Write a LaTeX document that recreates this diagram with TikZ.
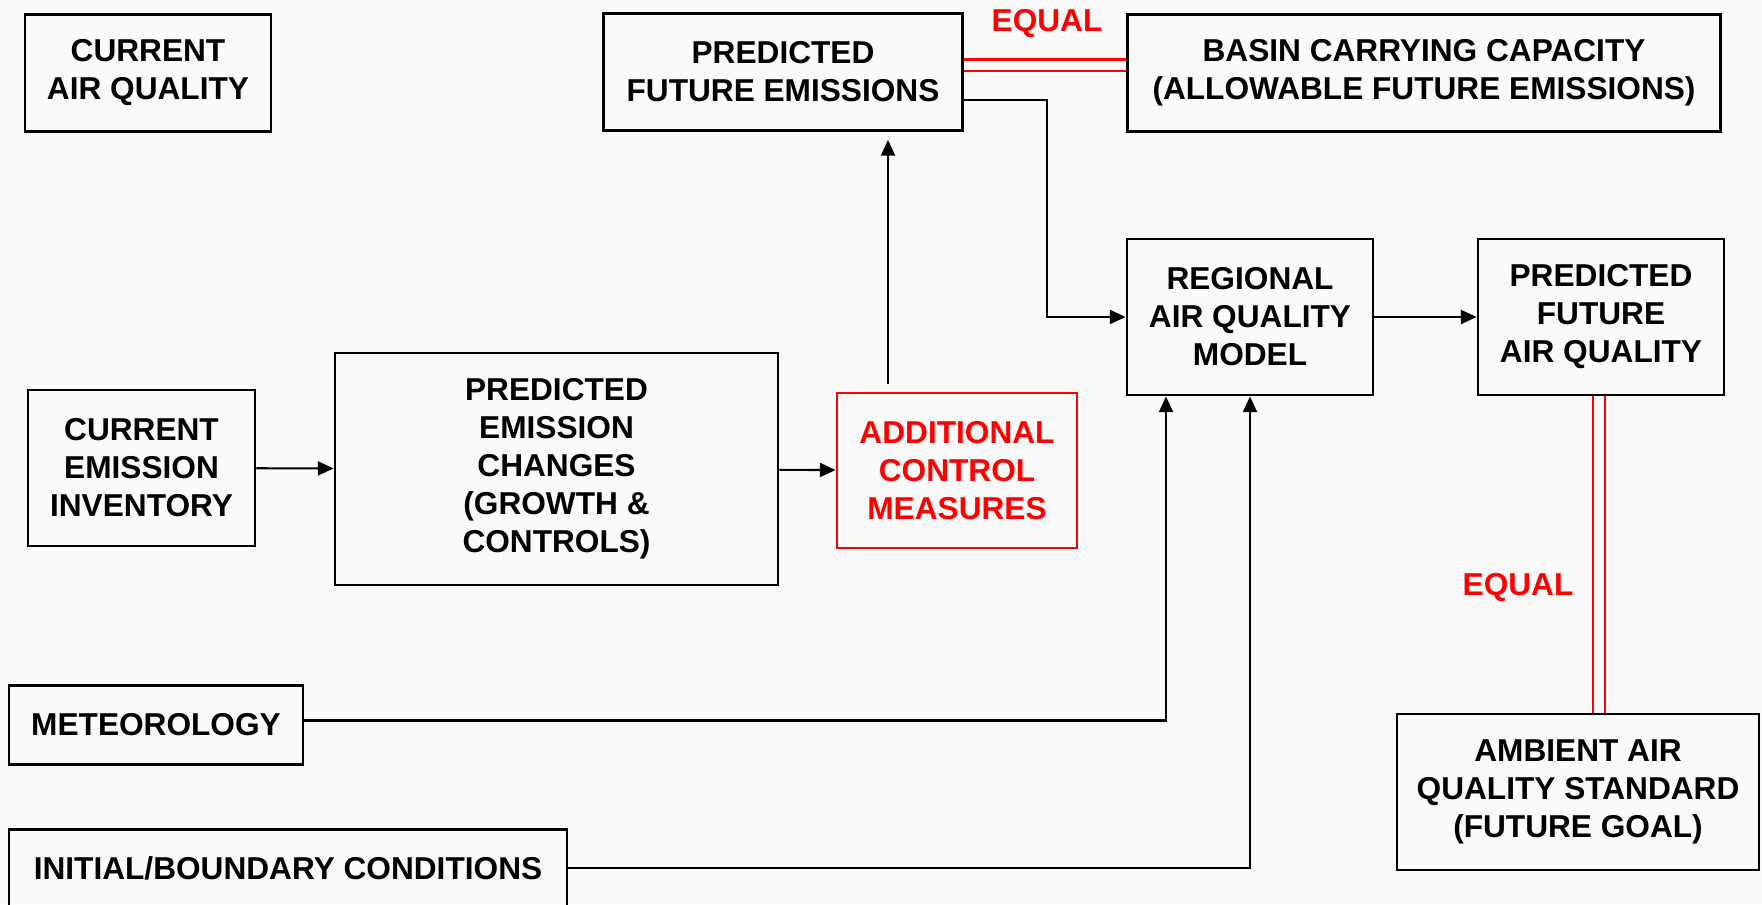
\documentclass[tikz,border=0pt]{standalone}
\usepackage{fontspec}
\setsansfont{Liberation Sans}
\usetikzlibrary{arrows.meta}

\begin{document}
\begin{tikzpicture}[font=\sffamily\bfseries\fontsize{9}{10.8}\selectfont,
  box/.style={draw,line width=0.8pt,align=center,inner sep=0pt},
  arr/.style={line width=0.6pt,-{Triangle[length=4.5pt,width=4pt]}},
  equal/.style={red,line width=0.6pt}]
\fill[black!2] (0,0) rectangle (17.62,-9.04);
\useasboundingbox (0,0) rectangle (17.62,-9.04);
% top row
\node[box,minimum width=2.46cm,minimum height=1.17cm] (caq) at (1.48,-0.73) {CURRENT\\AIR QUALITY};
\node[box,minimum width=3.59cm,minimum height=1.17cm] (pfe) at (7.83,-0.72) {PREDICTED\\FUTURE EMISSIONS};
\node[box,minimum width=5.93cm,minimum height=1.17cm] (bcc) at (14.24,-0.73) {BASIN CARRYING CAPACITY\\(ALLOWABLE FUTURE EMISSIONS)};
\node[red] (eq1) at (10.47,-0.24) {EQUAL};
% model
\node[box,minimum width=2.46cm,minimum height=1.56cm] (ram) at (12.50,-3.17) {REGIONAL\\AIR QUALITY\\MODEL};
\node[box,minimum width=2.46cm,minimum height=1.56cm] (pfaq) at (16.01,-3.17) {PREDICTED\\FUTURE\\AIR QUALITY};
\node[box,minimum width=3.62cm,minimum height=1.56cm] (aaqs) at (15.78,-7.92) {AMBIENT AIR\\QUALITY STANDARD\\(FUTURE GOAL)};
\node[red] (eq2) at (15.18,-5.88) {EQUAL};
% emissions row
\node[box,minimum width=2.27cm,minimum height=1.56cm] (cei) at (1.415,-4.68) {CURRENT\\EMISSION\\INVENTORY};
\node[box,minimum width=4.43cm,minimum height=2.32cm] (pec) at (5.565,-4.69) {PREDICTED\\EMISSION\\CHANGES\\(GROWTH \&\\CONTROLS)};
\node[box,red,minimum width=2.40cm,minimum height=1.55cm] (acm) at (9.57,-4.705) {ADDITIONAL\\CONTROL\\MEASURES};
% inputs
\node[box,minimum width=2.94cm,minimum height=0.79cm] (met) at (1.56,-7.25) {METEOROLOGY};
\node[box,minimum width=5.58cm,minimum height=0.77cm] (ibc) at (2.88,-8.68) {INITIAL/BOUNDARY CONDITIONS};
% connectors
\draw[arr] (cei) -- (pec);
\draw[arr] (pec) -- (acm);
\draw[arr,shorten <=0.8mm,shorten >=0.8mm] ([xshift=-6.9mm]acm.north) -- ([xshift=-6.9mm]acm.north |- pfe.south);
\draw[arr] ([yshift=-2.8mm]pfe.east) -- ++(0.83,0) |- (ram.west);
\draw[arr] (ram) -- (pfaq);
\draw[arr] ([yshift=0.45mm]met.east) -| ([xshift=-8.4mm]ram.south);
\draw[arr] (ibc.east) -| (ram.south);
% equal links
\draw[equal] ([yshift=1.25mm]pfe.east) -- ([yshift=1.25mm]pfe.east -| bcc.west);
\draw[equal] ([yshift=0.1mm]pfe.east) -- ([yshift=0.1mm]pfe.east -| bcc.west);
\draw[equal] ([xshift=-0.8mm]pfaq.south) -- ([xshift=-0.8mm]pfaq.south |- aaqs.north);
\draw[equal] ([xshift=0.4mm]pfaq.south) -- ([xshift=0.4mm]pfaq.south |- aaqs.north);
\end{tikzpicture}
\end{document}
